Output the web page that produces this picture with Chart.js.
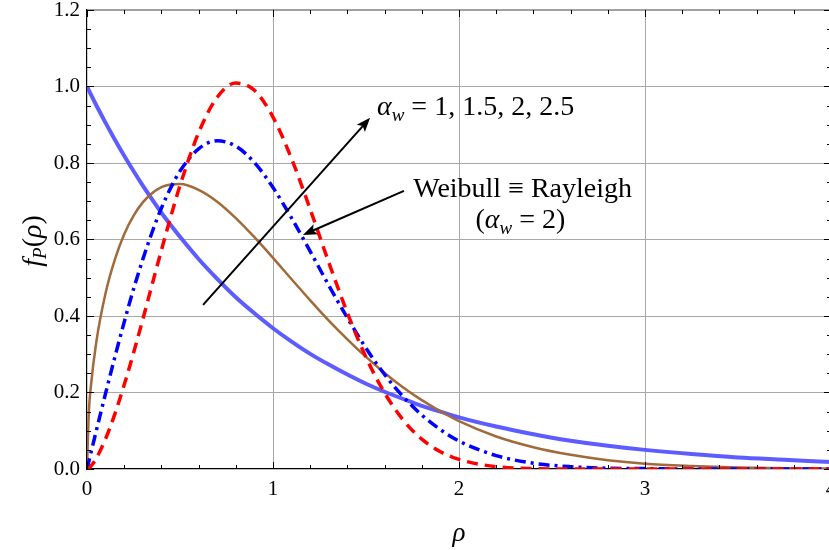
<!DOCTYPE html>
<html>
<head>
<meta charset="utf-8">
<script src="https://cdn.jsdelivr.net/npm/chart.js@4/dist/chart.umd.min.js"></script>
<style>
  html, body { margin: 0; padding: 0; overflow: hidden; background: #fff; }
  #wrap { width: 833px; height: 550px; }
</style>
</head>
<body>
<div id="wrap"><canvas id="c" width="833" height="550"></canvas></div>
<script>
// Sample positions along rho
const rho = [0, 0.01, 0.02, 0.05, 0.1, 0.15, 0.2, 0.25, 0.3, 0.35, 0.4, 0.45, 0.5,
  0.6, 0.7, 0.8, 0.9, 1.0, 1.1, 1.2, 1.3, 1.4, 1.5, 1.6, 1.7, 1.8, 1.9, 2.0,
  2.2, 2.4, 2.6, 2.8, 3.0, 3.25, 3.5, 3.75, 4.0];

// Weibull densities f_P(rho) for the four shape parameters
const fAlpha1 = [1.000, 0.990, 0.980, 0.951, 0.905, 0.861, 0.819, 0.779, 0.741, 0.705, 0.670, 0.638, 0.607,
  0.549, 0.497, 0.449, 0.407, 0.368, 0.333, 0.301, 0.273, 0.247, 0.223, 0.202, 0.183, 0.165, 0.150, 0.135,
  0.111, 0.091, 0.074, 0.061, 0.050, 0.039, 0.030, 0.024, 0.018];
const fAlpha15 = [0, 0.150, 0.212, 0.332, 0.460, 0.548, 0.614, 0.662, 0.697, 0.721, 0.737, 0.744, 0.745,
  0.730, 0.699, 0.656, 0.606, 0.552, 0.496, 0.441, 0.388, 0.339, 0.293, 0.251, 0.213, 0.180, 0.151, 0.125,
  0.085, 0.057, 0.037, 0.023, 0.014, 0.008, 0.004, 0.002, 0.001];
const fAlpha2 = [0, 0.020, 0.040, 0.100, 0.198, 0.293, 0.384, 0.470, 0.548, 0.619, 0.682, 0.735, 0.779,
  0.837, 0.858, 0.844, 0.801, 0.736, 0.656, 0.569, 0.480, 0.395, 0.316, 0.247, 0.189, 0.141, 0.103, 0.073,
  0.035, 0.015, 0.006, 0.002, 0.001, 0.000, 0.000, 0.000, 0.000];
const fAlpha25 = [0, 0.003, 0.007, 0.028, 0.079, 0.144, 0.220, 0.303, 0.391, 0.482, 0.572, 0.659, 0.741,
  0.879, 0.972, 1.009, 0.990, 0.920, 0.811, 0.679, 0.540, 0.408, 0.292, 0.199, 0.128, 0.078, 0.045, 0.025,
  0.006, 0.001, 0.000, 0.000, 0.000, 0.000, 0.000, 0.000, 0.000];

// Axis tick settings
const xTickStep = 1, xMinorStep = 0.2, xMax = 4;
const yTickStep = 0.2, yMinorStep = 0.05, yMax = 1.2;

const SERIF = '"Liberation Serif", "DejaVu Serif", serif';

const pts = ys => rho.map((r, i) => ({ x: r, y: ys[i] }));

function richText(ctx, parts, x, y, align) {
  let w = 0;
  parts.forEach(p => { ctx.font = p[1]; w += ctx.measureText(p[0]).width; });
  let cx = align === 'center' ? x - w / 2 : x;
  parts.forEach(p => {
    ctx.font = p[1];
    ctx.fillText(p[0], cx, y + (p[2] || 0));
    cx += ctx.measureText(p[0]).width;
  });
}

function arrow(ctx, x0, y0, x1, y1) {
  const ang = Math.atan2(y1 - y0, x1 - x0);
  const L = 14, W = 5.5;
  const bx = x1 - L * Math.cos(ang), by = y1 - L * Math.sin(ang);
  ctx.beginPath();
  ctx.moveTo(x0, y0);
  ctx.lineTo(bx + 3 * Math.cos(ang), by + 3 * Math.sin(ang));
  ctx.stroke();
  ctx.beginPath();
  ctx.moveTo(x1, y1);
  ctx.lineTo(bx - W * Math.sin(ang), by + W * Math.cos(ang));
  ctx.lineTo(bx + 3 * Math.cos(ang), by + 3 * Math.sin(ang));
  ctx.lineTo(bx + W * Math.sin(ang), by - W * Math.cos(ang));
  ctx.closePath();
  ctx.fill();
}

// Frame, minor ticks, annotations and axis titles
const framePlugin = {
  id: 'frame',
  afterDraw(chart) {
    const { ctx, chartArea: a, scales: { x, y } } = chart;
    ctx.save();
    ctx.lineWidth = 1.2;
    ctx.strokeStyle = '#444';
    ctx.beginPath();
    ctx.moveTo(a.left, a.top); ctx.lineTo(a.right, a.top); ctx.lineTo(a.right, a.bottom);
    ctx.stroke();

    ctx.strokeStyle = '#000';
    ctx.lineWidth = 1;
    const nx = Math.round(xMax / xMinorStep);
    for (let i = 0; i <= nx; i++) {
      const px = Math.round(x.getPixelForValue(i * xMinorStep)) + 0.5;
      const len = (i % Math.round(xTickStep / xMinorStep) === 0) ? 7 : 4;
      ctx.beginPath();
      ctx.moveTo(px, a.bottom); ctx.lineTo(px, a.bottom - len);
      ctx.moveTo(px, a.top); ctx.lineTo(px, a.top + len);
      ctx.stroke();
    }
    const ny = Math.round(yMax / yMinorStep);
    for (let i = 0; i <= ny; i++) {
      const py = Math.round(y.getPixelForValue(i * yMinorStep)) + 0.5;
      const len = (i % Math.round(yTickStep / yMinorStep) === 0) ? 7 : 4;
      ctx.beginPath();
      ctx.moveTo(a.left, py); ctx.lineTo(a.left + len, py);
      ctx.moveTo(a.right, py); ctx.lineTo(a.right - len, py);
      ctx.stroke();
    }

    // Annotation arrows
    ctx.fillStyle = '#000';
    ctx.strokeStyle = '#000';
    ctx.lineWidth = 2;
    arrow(ctx, x.getPixelForValue(0.624), y.getPixelForValue(0.429),
               x.getPixelForValue(1.522), y.getPixelForValue(0.918));
    arrow(ctx, x.getPixelForValue(1.704), y.getPixelForValue(0.727),
               x.getPixelForValue(1.161), y.getPixelForValue(0.612));

    // Annotation labels
    ctx.textBaseline = 'alphabetic';
    ctx.textAlign = 'left';
    const big = '28px ' + SERIF, bigI = 'italic 28px ' + SERIF, sub = 'italic 19px ' + SERIF;
    richText(ctx, [['\u03B1', bigI], ['w', sub, 6], [' = 1, 1.5, 2, 2.5', big]],
      x.getPixelForValue(1.559), y.getPixelForValue(0.925), 'left');
    richText(ctx, [['Weibull \u2261 Rayleigh', big]],
      x.getPixelForValue(2.342), y.getPixelForValue(0.711), 'center');
    richText(ctx, [['(', big], ['\u03B1', bigI], ['w', sub, 6], [' = 2)', big]],
      x.getPixelForValue(2.33), y.getPixelForValue(0.630), 'center');

    // Axis titles
    richText(ctx, [['\u03C1', 'italic 27px ' + SERIF]], 459, 541, 'center');
    ctx.translate(41, 241);
    ctx.rotate(-Math.PI / 2);
    richText(ctx, [['f', 'italic 28px ' + SERIF], ['P', 'italic 19px ' + SERIF, 5],
      ['(', '28px ' + SERIF], ['\u03C1', 'italic 28px ' + SERIF], [')', '28px ' + SERIF]], 0, 0, 'center');
    ctx.restore();
  }
};

new Chart(document.getElementById('c'), {
  type: 'line',
  data: {
    datasets: [
      { label: '\u03B1w = 1', data: pts(fAlpha1), borderColor: 'rgba(80,80,255,0.93)', borderWidth: 4, order: 4 },
      { label: '\u03B1w = 1.5', data: pts(fAlpha15), borderColor: '#a06a3a', borderWidth: 2.5, order: 3 },
      { label: '\u03B1w = 2', data: pts(fAlpha2), borderColor: '#0000ff', borderWidth: 3.5, borderDash: [11, 5, 3, 5], order: 2 },
      { label: '\u03B1w = 2.5', data: pts(fAlpha25), borderColor: '#ff0000', borderWidth: 3.5, borderDash: [11, 7], order: 1 }
    ]
  },
  options: {
    responsive: false,
    animation: false,
    devicePixelRatio: 1,
    layout: { padding: { top: 10, right: 2, left: 0, bottom: 0 } },
    elements: {
      point: { radius: 0 },
      line: { cubicInterpolationMode: 'monotone', fill: false, borderCapStyle: 'butt' }
    },
    plugins: { legend: { display: false }, tooltip: { enabled: false } },
    scales: {
      x: {
        type: 'linear', min: 0, max: xMax,
        ticks: { stepSize: xTickStep, color: '#000', padding: 8,
          font: { family: SERIF, size: 21 }, maxRotation: 0,
          callback: v => String(v) },
        grid: { drawTicks: false, lineWidth: 1,
          color: c => (c.tick && c.tick.value > 0 && c.tick.value < xMax) ? '#a8a8a8' : 'rgba(0,0,0,0)' },
        border: { color: '#000', width: 1.2 },
        afterFit(s) { s.height = 81; s.paddingLeft = 0; s.paddingRight = 0; }
      },
      y: {
        type: 'linear', min: 0, max: yMax,
        ticks: { stepSize: yTickStep, color: '#000', padding: 7,
          font: { family: SERIF, size: 21 },
          callback: v => v.toFixed(1) },
        grid: { drawTicks: false, lineWidth: 1,
          color: c => (c.tick && c.tick.value > 0.001 && c.tick.value < yMax - 0.001) ? '#a8a8a8' : 'rgba(0,0,0,0)' },
        border: { color: '#000', width: 1.2 },
        afterFit(s) { s.width = 87; s.paddingTop = 0; s.paddingBottom = 0; }
      }
    }
  },
  plugins: [framePlugin]
});
</script>
</body>
</html>
